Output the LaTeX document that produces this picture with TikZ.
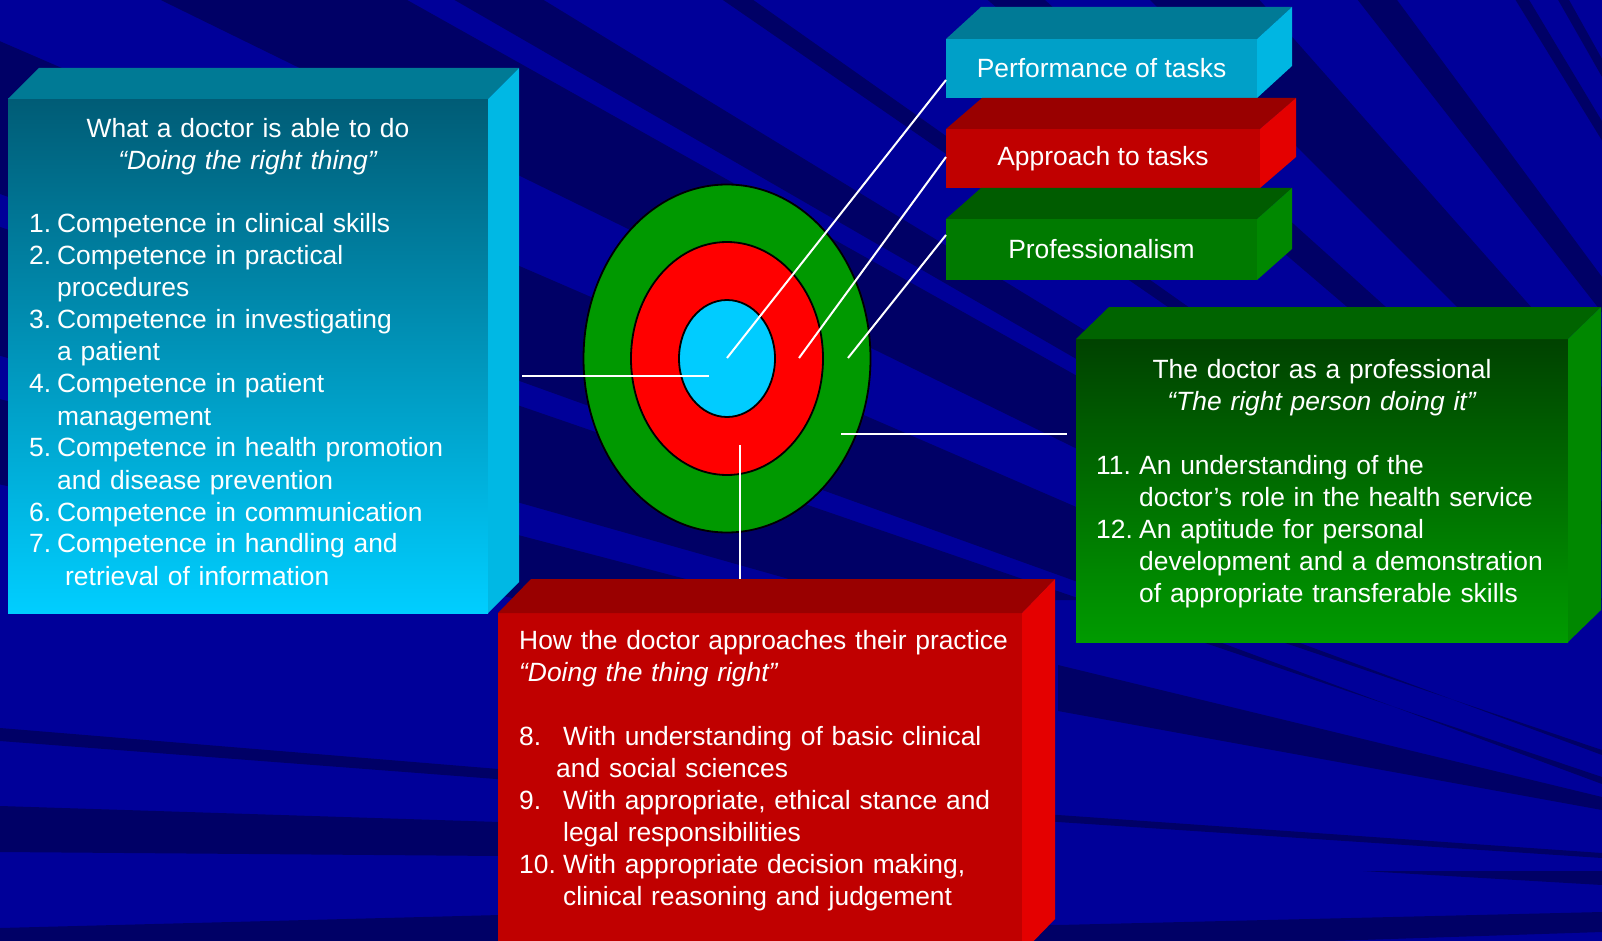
\documentclass[tikz,border=0pt]{standalone}
\usepackage{fontspec}
\setmainfont{Liberation Sans}
\usetikzlibrary{shapes.geometric,calc}
\definecolor{bgblue}{RGB}{0,0,153}
\definecolor{bgdark}{RGB}{0,0,102}
\definecolor{ltopc}{RGB}{0,122,149}
\definecolor{lrightc}{RGB}{0,184,228}
\definecolor{lfrontA}{RGB}{0,92,118}
\definecolor{lfrontB}{RGB}{0,206,255}
\definecolor{pfront}{RGB}{0,160,200}
\definecolor{ptop}{RGB}{0,122,150}
\definecolor{pright}{RGB}{0,182,226}
\definecolor{rfront}{RGB}{192,0,0}
\definecolor{rtop}{RGB}{153,0,0}
\definecolor{rright}{RGB}{228,0,0}
\definecolor{gfront}{RGB}{0,122,0}
\definecolor{gtop}{RGB}{0,92,0}
\definecolor{gright}{RGB}{0,136,0}
\definecolor{gfrontA}{RGB}{0,66,0}
\definecolor{gfrontB}{RGB}{0,155,0}
\definecolor{gtop2}{RGB}{0,100,0}
\definecolor{ringgreen}{RGB}{0,153,0}
\definecolor{ringred}{RGB}{255,0,0}
\definecolor{ringcyan}{RGB}{0,204,255}
\newcommand\txtfont{\fontsize{26.4}{32}\selectfont}
\begin{document}
\begin{tikzpicture}[x=1pt,y=-1pt,
  front/.style={anchor=north west,inner sep=0,outer sep=0,text=white,font=\txtfont},
  hdr/.style={inner sep=0,text=white,font=\txtfont,align=center},
  lst/.style={inner sep=0,text=white,font=\txtfont,align=left,anchor=base west},
  conn/.style={draw=white,line width=2pt},
  ring/.style={ellipse,draw=black,line width=1.8pt,inner sep=0}]
\useasboundingbox (0,0) rectangle (1602,941);
% background
\fill[bgblue] (0,0) rectangle (1602,941);
\begin{scope}
\clip (0,0) -- (1602,0) -- (1602,600) -- (1055,600) -- (1055,941) -- (0,941) -- cycle;
\coordinate (C) at (2100,950);
\foreach \a/\b in {119.2/119.7,121.0/121.6,126.5/128.0,131.5/135.0,138/139.5,144.8/145.4,148.6/150.0,150.7/153.9,156.6/160.2,161.0/164.2,165.3/167.5}
  \fill[bgdark] (C) -- ($(C)+(-\a:3000)$) -- ($(C)+(-\b:3000)$) -- cycle;
\end{scope}
\begin{scope}
\clip (0,0) rectangle (1602,941);
\fill[bgdark] (0,728) -- (1058,815) -- (1602,853) -- (1602,858) -- (1058,822) -- (0,741) -- cycle;
\fill[bgdark] (0,806) -- (500,822) -- (1040,840) -- (1040,858) -- (500,856) -- (0,852) -- cycle;
\fill[bgdark] (0,928) -- (500,915) -- (1058,925) -- (1602,912) -- (1602,932) -- (1058,950) -- (0,950) -- cycle;
\fill[bgdark] (1058,665) -- (1602,797) -- (1602,810) -- (1058,711) -- cycle;
\fill[bgdark] (1363,871) -- (1602,871) -- (1602,885) -- cycle;
\fill[bgdark] (1205,643) -- (1222,643) -- (1602,784) -- (1602,777) -- cycle;
\fill[bgdark] (1285,643) -- (1300,643) -- (1602,755) -- (1602,750) -- cycle;
\end{scope}
% left box
\node[front,shade,shading angle=45,top color=lfrontA,bottom color=lfrontB,minimum width=480,minimum height=514] (lbox) at (8,99) {};
\fill[ltopc] (lbox.north west) -- ++(31,-31) -- ($(lbox.north east)+(31,-31)$) -- (lbox.north east) -- cycle;
\fill[lrightc] (lbox.north east) -- ++(31,-31) -- ($(lbox.south east)+(31,-31)$) -- (lbox.south east) -- cycle;
% performance
\node[front,fill=pfront,minimum width=311,minimum height=59] (perf) at (946,39) {Performance of tasks};
\fill[ptop] (perf.north west) -- ++(35,-32) -- ($(perf.north east)+(35,-32)$) -- (perf.north east) -- cycle;
\fill[pright] (perf.north east) -- ++(35,-32) -- ($(perf.south east)+(35,-32)$) -- (perf.south east) -- cycle;
% approach
\node[front,fill=rfront,minimum width=314,minimum height=59] (appr) at (946,129) {Approach to tasks};
\fill[rtop] (appr.north west) -- ++(36,-31) -- ($(appr.north east)+(36,-31)$) -- (appr.north east) -- cycle;
\fill[rright] (appr.north east) -- ++(36,-31) -- ($(appr.south east)+(36,-31)$) -- (appr.south east) -- cycle;
% professionalism
\node[front,fill=gfront,minimum width=311,minimum height=61] (prof) at (946,219) {Professionalism};
\fill[gtop] (prof.north west) -- ++(35,-31) -- ($(prof.north east)+(35,-31)$) -- (prof.north east) -- cycle;
\fill[gright] (prof.north east) -- ++(35,-31) -- ($(prof.south east)+(35,-31)$) -- (prof.south east) -- cycle;
% right green box
\node[front,shade,shading angle=-45,top color=gfrontA,bottom color=gfrontB,minimum width=492,minimum height=303] (rbox) at (1076,339) {};
\fill[gtop2] (rbox.north west) -- ++(33,-32) -- ($(rbox.north east)+(33,-32)$) -- (rbox.north east) -- cycle;
\fill[gright] (rbox.north east) -- ++(33,-32) -- ($(rbox.south east)+(33,-32)$) -- (rbox.south east) -- cycle;
% bottom red box
\node[front,fill=rfront,minimum width=524,minimum height=340] (bbox) at (498,613) {};
\fill[rtop] (bbox.north west) -- ++(33,-34) -- ($(bbox.north east)+(33,-34)$) -- (bbox.north east) -- cycle;
\fill[rright] (bbox.north east) -- ++(33,-34) -- ($(bbox.south east)+(33,-34)$) -- (bbox.south east) -- cycle;
% target
\node[ring,fill=ringgreen,minimum width=287,minimum height=348] (outer) at (727,358.5) {};
\node[ring,fill=ringred,minimum width=192,minimum height=233] (middle) at (727,358.5) {};
\node[ring,fill=ringcyan,minimum width=96,minimum height=117] (inner) at (727,358.5) {};
% connectors
\coordinate (e1) at (727,358);
\coordinate (e2) at (799,358);
\coordinate (e3) at (848,358);
\coordinate (l0) at (522,376);
\coordinate (l1) at (709,376);
\coordinate (r0) at (841,434);
\coordinate (r1) at (1067,434);
\coordinate (v0) at (740,445);
\coordinate (v1) at (740,579);
\draw[conn] (e1) -- ([yshift=-11.5pt]perf.west);
\draw[conn] (e2) -- ([yshift=1.5pt]appr.west);
\draw[conn] (e3) -- ([yshift=14.5pt]prof.west);
\draw[conn] (l0) -- (l1);
\draw[conn] (r0) -- (r1);
\draw[conn] (v0) -- (v1);
% texts
\node[hdr,text width=470,anchor=base] (lh) at (248,138) {What a doctor is able to do\\\textit{“Doing the right thing”}};
\node[lst,text width=470] (ll) at (29,233) {%
\makebox[28pt][l]{1.}Competence in clinical skills\\
\makebox[28pt][l]{2.}Competence in practical\\
\hspace*{28pt}procedures\\
\makebox[28pt][l]{3.}Competence in investigating\\
\hspace*{28pt}a patient\\
\makebox[28pt][l]{4.}Competence in patient\\
\hspace*{28pt}management\\
\makebox[28pt][l]{5.}Competence in health promotion\\
\hspace*{28pt}and disease prevention\\
\makebox[28pt][l]{6.}Competence in communication\\
\makebox[28pt][l]{7.}Competence in handling and\\
\hspace*{36pt}retrieval of information};
\node[hdr,text width=480,anchor=base] (rh) at (1322,378) {The doctor as a professional\\\textit{“The right person doing it”}};
\node[lst,text width=480] (rl) at (1096,474) {%
\makebox[43pt][l]{11.}An understanding of the\\
\hspace*{43pt}doctor’s role in the health service\\
\makebox[43pt][l]{12.}An aptitude for personal\\
\hspace*{43pt}development and a demonstration\\
\hspace*{43pt}of appropriate transferable skills};
\node[lst,text width=500] (bh) at (519,649) {How the doctor approaches their practice\\\textit{“Doing the thing right”}};
\node[lst,text width=500] (bl) at (519,745) {%
\makebox[44pt][l]{8.}With understanding of basic clinical\\
\hspace*{37pt}and social sciences\\
\makebox[44pt][l]{9.}With appropriate, ethical stance and\\
\hspace*{44pt}legal responsibilities\\
\makebox[44pt][l]{10.}With appropriate decision making,\\
\hspace*{44pt}clinical reasoning and judgement};
\end{tikzpicture}
\end{document}
